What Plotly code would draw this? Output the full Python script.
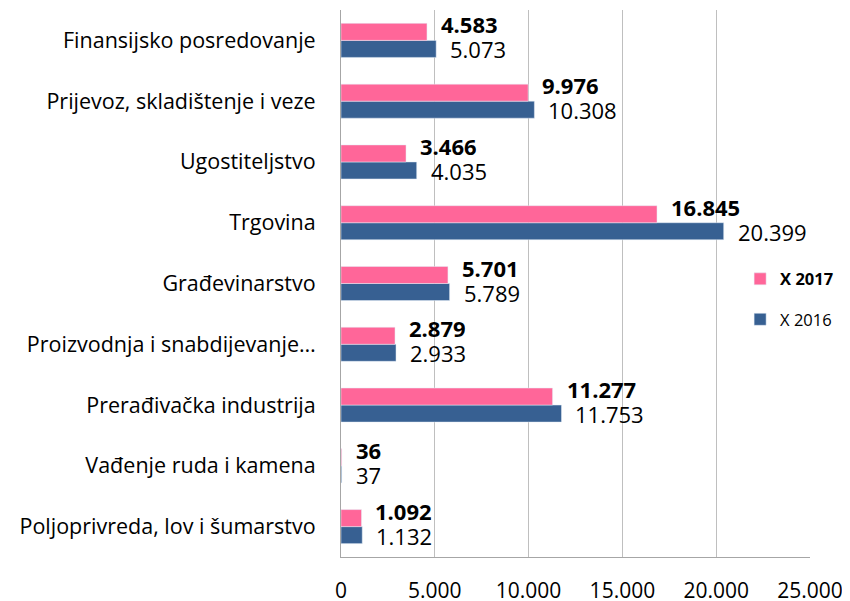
import plotly.graph_objects as go

categories = [
    "Poljoprivreda, lov i šumarstvo",
    "Vađenje ruda i kamena",
    "Prerađivačka industrija",
    "Proizvodnja i snabdijevanje…",
    "Građevinarstvo",
    "Trgovina",
    "Ugostiteljstvo",
    "Prijevoz, skladištenje i veze",
    "Finansijsko posredovanje",
]
values_2016 = [1132, 37, 11753, 2933, 5789, 20399, 4035, 10308, 5073]
values_2017 = [1092, 36, 11277, 2879, 5701, 16845, 3466, 9976, 4583]
tick_vals = [0, 5000, 10000, 15000, 20000, 25000]

FONT = "Open Sans"
BLUE = "#376092"
PINK = "#FF6699"


def fmt(v):
    return f"{v:,}".replace(",", ".")


fig = go.Figure()
fig.add_trace(go.Bar(
    y=categories, x=values_2016, orientation="h", name="X 2016",
    marker=dict(color=BLUE), legendgroup="g2016", legendrank=2,
))
fig.add_trace(go.Bar(
    y=categories, x=values_2017, orientation="h", name="<b>X 2017</b>",
    marker=dict(color=PINK), legendgroup="g2017", legendrank=1,
))

annotations = []
for cat, v16, v17 in zip(categories, values_2016, values_2017):
    annotations.append(dict(
        x=v17, y=cat, xref="x", yref="y", text=f"<b>{fmt(v17)}</b>",
        showarrow=False, xanchor="left", yanchor="middle", height=24,
        xshift=12, yshift=16, font=dict(family=FONT, size=22, color="#000000"),
    ))
    annotations.append(dict(
        x=v16, y=cat, xref="x", yref="y", text=fmt(v16),
        showarrow=False, xanchor="left", yanchor="middle", height=24,
        xshift=12, yshift=-9, font=dict(family=FONT, size=22, color="#000000"),
    ))

fig.update_layout(
    width=842, height=593,
    margin=dict(l=333, r=40, t=2, b=44, autoexpand=False),
    paper_bgcolor="white", plot_bgcolor="white",
    barmode="group", bargap=0.44, bargroupgap=0,
    separators=",.",
    font=dict(family=FONT, size=18, color="#000000"),
    annotations=annotations,
    legend=dict(x=0.851, y=0.54, xanchor="left", yanchor="top",
                bgcolor="rgba(0,0,0,0)", traceorder="grouped",
                tracegroupgap=16, itemwidth=30, font=dict(size=16.5)),
    xaxis=dict(range=[0, 25000], tickvals=tick_vals, tickformat=",",
               showgrid=True, gridcolor="#BFBFBF", gridwidth=1,
               showline=True, linecolor="#A6A6A6", linewidth=1,
               ticks="", ticklabelstandoff=15, zeroline=False,
               automargin=False, tickfont=dict(size=21)),
    yaxis=dict(showline=True, linecolor="#A6A6A6", linewidth=1,
               ticks="", ticklabelstandoff=20, automargin=False,
               tickfont=dict(size=21.5)),
    showlegend=True,
)
fig.write_html("out.html")
